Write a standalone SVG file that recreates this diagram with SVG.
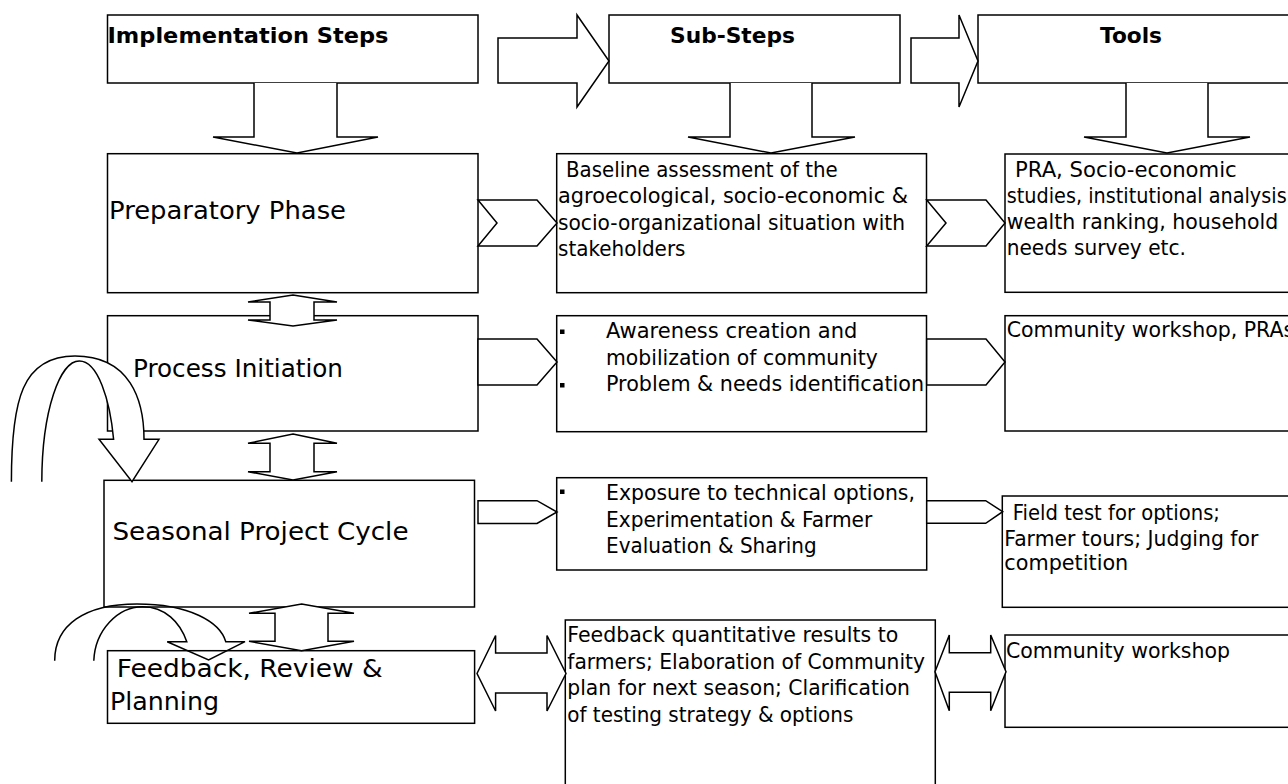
<svg xmlns="http://www.w3.org/2000/svg" width="1288" height="784" viewBox="0 0 1288 784">
<style>
.box{fill:#fff;stroke:#000;stroke-width:1.5}
.arr{fill:#fff;stroke:#000;stroke-width:1.5;stroke-linejoin:miter}
.open{fill:none;stroke:#000;stroke-width:1.5}
text{font-family:"DejaVu Sans","Liberation Sans",sans-serif;fill:#000}
.h{font-size:21.5px;font-weight:bold}
.big{font-size:25.5px}
.s{font-size:20.5px}
.bul{fill:#000}
</style>
<rect x="0" y="0" width="1288" height="784" fill="#fff"/>
<g id="node-implementation-steps">
<rect class="box" x="107.5" y="15" width="370.5" height="68"/>
<text class="h" x="107.5" y="43" textLength="281" lengthAdjust="spacingAndGlyphs">Implementation Steps</text>
</g>
<g id="node-sub-steps">
<rect class="box" x="609" y="15" width="291" height="68"/>
<text class="h" x="670" y="43" textLength="125" lengthAdjust="spacingAndGlyphs">Sub-Steps</text>
</g>
<g id="node-tools">
<rect class="box" x="978" y="15" width="312" height="68"/>
<text class="h" x="1100" y="43" textLength="62" lengthAdjust="spacingAndGlyphs">Tools</text>
</g>
<g id="node-preparatory">
<rect class="box" x="107.5" y="153.7" width="370.5" height="139"/>
<text class="big" x="109" y="219" textLength="237" lengthAdjust="spacingAndGlyphs">Preparatory Phase</text>
</g>
<g id="node-baseline">
<rect class="box" x="556.7" y="153.7" width="369.8" height="139"/>
<text class="s" x="566" y="176.7" textLength="271.7" lengthAdjust="spacingAndGlyphs">Baseline assessment of the</text>
<text class="s" x="558" y="203.2" textLength="350" lengthAdjust="spacingAndGlyphs">agroecological, socio-economic &amp;</text>
<text class="s" x="558" y="229.7" textLength="347" lengthAdjust="spacingAndGlyphs">socio-organizational situation with</text>
<text class="s" x="558" y="256" textLength="127.5" lengthAdjust="spacingAndGlyphs">stakeholders</text>
</g>
<g id="node-pra">
<rect class="box" x="1005" y="154" width="285" height="138.3"/>
<text class="s" x="1015" y="176.7" textLength="221.7" lengthAdjust="spacingAndGlyphs">PRA, Socio-economic</text>
<text class="s" x="1006.7" y="202.7" textLength="280" lengthAdjust="spacingAndGlyphs">studies, institutional analysis</text>
<text class="s" x="1006.7" y="229.3" textLength="271.6" lengthAdjust="spacingAndGlyphs">wealth ranking, household</text>
<text class="s" x="1006.7" y="255" textLength="179.3" lengthAdjust="spacingAndGlyphs">needs survey etc.</text>
</g>
<g id="node-process-initiation">
<rect class="box" x="107.5" y="315.7" width="370.5" height="115.3"/>
<text class="big" x="133" y="376.7" textLength="210" lengthAdjust="spacingAndGlyphs">Process Initiation</text>
</g>
<g id="node-awareness">
<rect class="box" x="556.7" y="315.7" width="369.8" height="116"/>
<rect class="bul" x="560" y="329.5" width="4.5" height="4.5"/>
<rect class="bul" x="560" y="383" width="4.5" height="4.5"/>
<text class="s" x="606" y="338.3" textLength="251.3" lengthAdjust="spacingAndGlyphs">Awareness creation and</text>
<text class="s" x="606" y="365" textLength="271.8" lengthAdjust="spacingAndGlyphs">mobilization of community</text>
<text class="s" x="606" y="390.7" textLength="318" lengthAdjust="spacingAndGlyphs">Problem &amp; needs identification</text>
</g>
<g id="node-community-pras">
<rect class="box" x="1005" y="315.7" width="285" height="115.3"/>
<text class="s" x="1006.7" y="336.7">Community workshop, PRAs</text>
</g>
<g id="node-seasonal">
<rect class="box" x="104" y="480.3" width="370.5" height="126.7"/>
<text class="big" x="112.5" y="540" textLength="296" lengthAdjust="spacingAndGlyphs">Seasonal Project Cycle</text>
</g>
<g id="node-exposure">
<rect class="box" x="556.7" y="477.7" width="370" height="92.3"/>
<rect class="bul" x="560" y="489.5" width="4.5" height="4.5"/>
<text class="s" x="606" y="500" textLength="309" lengthAdjust="spacingAndGlyphs">Exposure to technical options,</text>
<text class="s" x="606" y="527.3" textLength="266.3" lengthAdjust="spacingAndGlyphs">Experimentation &amp; Farmer</text>
<text class="s" x="606" y="553.3" textLength="210.7" lengthAdjust="spacingAndGlyphs">Evaluation &amp; Sharing</text>
</g>
<g id="node-field-test">
<rect class="box" x="1002.3" y="496" width="287.7" height="111.3"/>
<text class="s" x="1012.7" y="520" textLength="207.3" lengthAdjust="spacingAndGlyphs">Field test for options;</text>
<text class="s" x="1004.3" y="546" textLength="254" lengthAdjust="spacingAndGlyphs">Farmer tours; Judging for</text>
<text class="s" x="1004.3" y="570" textLength="124" lengthAdjust="spacingAndGlyphs">competition</text>
</g>
<g id="node-feedback">
<rect class="box" x="107.5" y="650.7" width="367.1" height="72.6"/>
<text class="big" x="116.7" y="677.3" textLength="266" lengthAdjust="spacingAndGlyphs">Feedback, Review &amp;</text>
<text class="big" x="110" y="710" textLength="109" lengthAdjust="spacingAndGlyphs">Planning</text>
</g>
<g id="node-feedback-results">
<rect class="box" x="565.3" y="620" width="370" height="175"/>
<text class="s" x="567.3" y="642.3" textLength="331" lengthAdjust="spacingAndGlyphs">Feedback quantitative results to</text>
<text class="s" x="567.3" y="669.3" textLength="357.7" lengthAdjust="spacingAndGlyphs">farmers; Elaboration of Community</text>
<text class="s" x="567.3" y="695.3" textLength="342.7" lengthAdjust="spacingAndGlyphs">plan for next season; Clarification</text>
<text class="s" x="567.3" y="721.5" textLength="286" lengthAdjust="spacingAndGlyphs">of testing strategy &amp; options</text>
</g>
<g id="node-community-workshop">
<rect class="box" x="1005" y="635" width="285" height="92.3"/>
<text class="s" x="1006" y="658.3" textLength="224" lengthAdjust="spacingAndGlyphs">Community workshop</text>
</g>
<g id="connectors">
<!-- header right arrows -->
<path class="arr" d="M498,38 L577,38 L577,15 L609,61 L577,107 L577,83 L498,83 Z"/>
<path class="arr" d="M911,38 L959,38 L959,15 L978,61 L959,107 L959,83 L911,83 Z"/>
<!-- header down arrows -->
<path class="arr" d="M254,83 L254,137 L213,137 L297,153 L378,137 L337,137 L337,83"/>
<path class="arr" d="M730,83 L730,137 L688,137 L771,153 L855,137 L812,137 L812,83"/>
<path class="arr" d="M1126,83 L1126,137 L1084,137 L1167,153 L1250,137 L1208,137 L1208,83"/>
<!-- row chevrons -->
<path class="arr" d="M478,200 L537,200 L557,223 L537,246 L478,246 L497,223 Z"/>
<path class="arr" d="M926.7,200 L986,200 L1005,223 L986,246 L926.7,246 L946,223 Z"/>
<path class="arr" d="M478,339 L537,339 L557,362 L537,385 L478,385 Z"/>
<path class="arr" d="M926.7,339 L986,339 L1005,362 L986,385 L926.7,385 Z"/>
<path class="arr" d="M478,500.7 L537,500.7 L557,512 L537,523.5 L478,523.5 Z"/>
<path class="arr" d="M926.7,500.7 L985.7,500.7 L1002.7,511.7 L985.7,523.3 L926.7,523.3 Z"/>
<!-- vertical double arrows -->
<path class="arr" d="M293,295 L337,302 L314,302 L314,320 L337,320 L293,326 L248,320 L270,320 L270,302 L248,302 Z"/>
<path class="arr" d="M293,434 L337,443.3 L314,443.3 L314,471.7 L337,471.7 L293,480 L248,471.7 L270,471.7 L270,443.3 L248,443.3 Z"/>
<path class="arr" d="M301.6,604 L354,613.3 L328,613.3 L328,641.3 L354,641.3 L301.6,650.7 L249,641.3 L275,641.3 L275,613.3 L249,613.3 Z"/>
<!-- horizontal double arrows -->
<path class="arr" d="M477,673.5 L495.6,635.5 L495.6,653 L547,653 L547,635.5 L566,673.5 L547,711 L547,693 L495.6,693 L495.6,711 Z"/>
<path class="arr" d="M935,671.7 L949.3,635 L949.3,652.7 L990.7,652.7 L990.7,635 L1006,671.7 L990.7,710.7 L990.7,692.3 L949.3,692.3 L949.3,710.7 Z"/>
<!-- curved loop arrows -->
<path class="arr" d="M11.4,481.7 C11.4,400 22,356 75,356 C130,356 144,400 144,439.3 L159,439.3 L132,481.7 L99,439.3 L113.6,439.3 C110,400 98,361 79.3,361 C60,361 42,410 41.8,481.7"/>
<path class="open" d="M54.7,660.7 C54.7,625 85,604 137,604 C190,604 220,622 225.8,641.7 L245,641.7 L208.6,660 L167.2,641.7 L186.8,641.7 C180,622 165,606.7 142.4,606.7 C118,606.7 95,630 93.8,660.7"/>
</g>
</svg>
